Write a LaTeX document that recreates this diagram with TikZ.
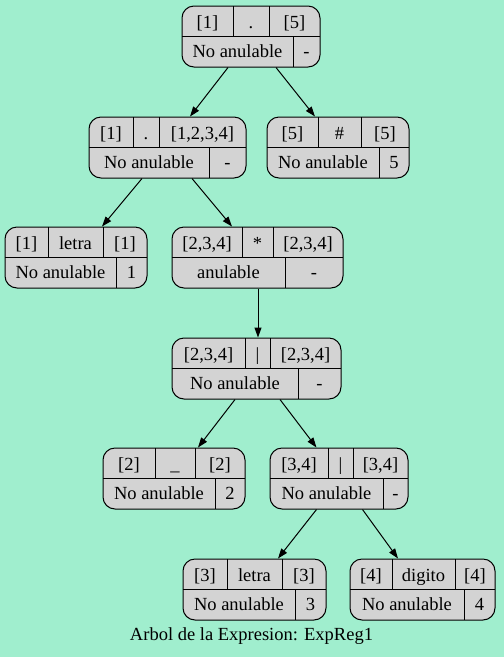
\documentclass[tikz,border=0pt]{standalone}
\usepackage{fontspec}
\setmainfont{Liberation Serif}
\usetikzlibrary{arrows.meta,calc}
\definecolor{bg}{RGB}{160,238,206}
\definecolor{recfill}{RGB}{211,211,211}
\tikzset{
 recbox/.style={draw=black, fill=recfill, line width=1pt, rounded corners=12pt, inner sep=0pt},
 sep/.style={draw=black, line width=1pt},
 lab/.style={font=\fontsize{18.5}{20}\selectfont, anchor=base, inner sep=0pt},
 edge/.style={draw=black, line width=1pt, -{Triangle[length=10pt,width=7pt]}},
 caption/.style={font=\fontsize{18.5}{20}\selectfont, anchor=base, inner sep=0pt},
}
% name x1 x2 y1 d1 d2 d3
\newcommand\recbox[7]{%
 \node[recbox, minimum width={(#3-#2)*1pt}, minimum height=61pt] (#1) at ({(#2+#3)/2},{#4+30.5}) {};
 \draw[sep] ({#2},{#4+30}) -- ({#3},{#4+30});
 \draw[sep] ({#5},{#4}) -- ({#5},{#4+30});
 \draw[sep] ({#6},{#4}) -- ({#6},{#4+30});
 \draw[sep] ({#7},{#4+30}) -- ({#7},{#4+61});
 \coordinate (#1-pa) at ({(#2+#5)/2},{#4+22});
 \coordinate (#1-pb) at ({(#5+#6)/2},{#4+22});
 \coordinate (#1-pc) at ({(#6+#3)/2},{#4+22});
 \coordinate (#1-pd) at ({(#2+#7)/2},{#4+51.5});
 \coordinate (#1-pe) at ({(#7+#3)/2},{#4+51.5});
}
\newcommand\rectext[6]{%
 \node[lab] (#1-ta) at (#1-pa) {#2};
 \node[lab] (#1-tb) at (#1-pb) {#3};
 \node[lab] (#1-tc) at (#1-pc) {#4};
 \node[lab] (#1-td) at (#1-pd) {#5};
 \node[lab] (#1-te) at (#1-pe) {#6};
}
\begin{document}
\begin{tikzpicture}[x=1pt,y=-1pt]
\fill[bg] (0,0) rectangle (504,657);
\useasboundingbox (0,0) rectangle (504,657);

\recbox{root}{182}{320}{6}{233}{269}{293}
\rectext{root}{[1]}{.}{[5]}{No anulable}{-}
\recbox{n2}{89}{246}{117}{133}{159}{209}
\rectext{n2}{[1]}{.}{[1,2,3,4]}{No anulable}{-}
\recbox{n3}{267}{409}{117}{318}{361}{379}
\rectext{n3}{[5]}{\#}{[5]}{No anulable}{5}
\recbox{n4}{5}{147}{227}{48}{103}{116}
\rectext{n4}{[1]}{letra}{[1]}{No anulable}{1}
\recbox{n5}{172}{343}{227}{242}{273}{285}
\rectext{n5}{[2,3,4]}{*}{[2,3,4]}{anulable}{-}
\recbox{n6}{172}{341}{338}{245}{270}{298}
\rectext{n6}{[2,3,4]}{\textbar}{[2,3,4]}{No anulable}{-}
\recbox{n7}{103}{245}{448}{155}{195}{215}
\rectext{n7}{[2]}{\_}{[2]}{No anulable}{2}
\recbox{n8}{270}{408}{448}{328}{353}{383}
\rectext{n8}{[3,4]}{\textbar}{[3,4]}{No anulable}{-}
\recbox{n9}{183}{326}{559}{227}{282}{295}
\rectext{n9}{[3]}{letra}{[3]}{No anulable}{3}
\recbox{n10}{350}{495}{559}{392}{455}{464}
\rectext{n10}{[4]}{digito}{[4]}{No anulable}{4}

\draw[edge] ($(root.south)+(-23,0)$) -- ($(n2.north)+(22.5,0)$);
\draw[edge] ($(root.south)+(25,0)$) -- ($(n3.north)+(-23,0)$);
\draw[edge] ($(n2.south)+(-25.5,0)$) -- ($(n4.north)+(26,0)$);
\draw[edge] ($(n2.south)+(24.5,0)$) -- ($(n5.north)+(-25.5,0)$);
\draw[edge] ($(n5.south)+(0.5,0)$) -- ($(n6.north)+(1.5,0)$);
\draw[edge] ($(n6.south)+(-21.5,0)$) -- ($(n7.north)+(24,0)$);
\draw[edge] ($(n6.south)+(23.5,0)$) -- ($(n8.north)+(-22.5,0)$);
\draw[edge] ($(n8.south)+(-22.5,0)$) -- ($(n9.north)+(23.5,0)$);
\draw[edge] ($(n8.south)+(23.5,0)$) -- ($(n10.north)+(-24.5,0)$);

\node[caption] (cap) at (251.5,640) {Arbol de la Expresion: ExpReg1};
\end{tikzpicture}
\end{document}
